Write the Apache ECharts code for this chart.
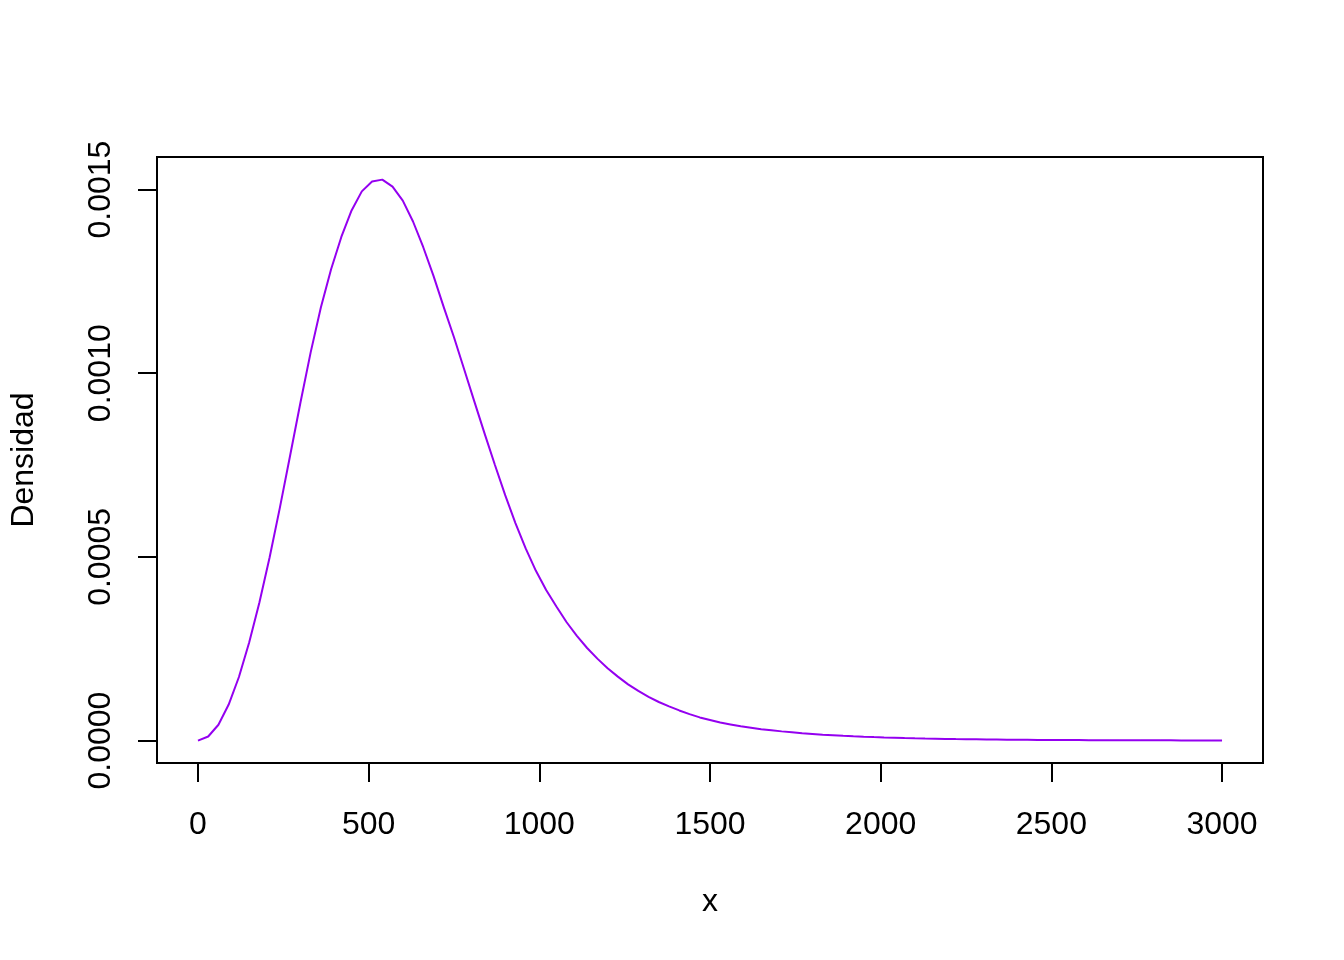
<!DOCTYPE html>
<html>
<head>
<meta charset="utf-8">
<script src="https://cdn.jsdelivr.net/npm/echarts@6/dist/echarts.min.js"></script>
<style>
  html, body { margin: 0; padding: 0; background: #ffffff; }
  #chart { width: 1344px; height: 960px; }
</style>
</head>
<body>
<div id="chart"></div>
<script>
// ---- data ----
const xValues = [
  0, 30, 60, 90, 120, 150, 180, 210, 240, 270,
  300, 330, 360, 390, 420, 450, 480, 510, 540, 570,
  600, 630, 660, 690, 720, 750, 780, 810, 840, 870,
  900, 930, 960, 990, 1020, 1050, 1080, 1110, 1140, 1170,
  1200, 1230, 1260, 1290, 1320, 1350, 1380, 1410, 1440, 1470,
  1500, 1530, 1560, 1590, 1620, 1650, 1680, 1710, 1740, 1770,
  1800, 1830, 1860, 1890, 1920, 1950, 1980, 2010, 2040, 2070,
  2100, 2130, 2160, 2190, 2220, 2250, 2280, 2310, 2340, 2370,
  2400, 2430, 2460, 2490, 2520, 2550, 2580, 2610, 2640, 2670,
  2700, 2730, 2760, 2790, 2820, 2850, 2880, 2910, 2940, 2970,
  3000
];
const densidad = [
  0.0000000, 0.0000110, 0.0000430, 0.0000980, 0.0001730, 0.0002670, 0.0003760, 0.0004990, 0.0006340, 0.0007760,
  0.0009190, 0.0010560, 0.0011790, 0.0012830, 0.0013710, 0.0014430, 0.0014950, 0.0015220, 0.0015270, 0.0015080,
  0.0014700, 0.0014130, 0.0013430, 0.0012650, 0.0011800, 0.0010980, 0.0010100, 0.0009220, 0.0008350, 0.0007500,
  0.0006680, 0.0005920, 0.0005230, 0.0004620, 0.0004100, 0.0003650, 0.0003220, 0.0002850, 0.0002520, 0.0002230,
  0.0001970, 0.0001740, 0.0001530, 0.0001350, 0.0001190, 0.0001050, 0.0000930, 0.0000820, 0.0000720, 0.0000630,
  0.0000560, 0.0000490, 0.0000440, 0.0000390, 0.0000350, 0.0000310, 0.0000280, 0.0000250, 0.0000225, 0.0000200,
  0.0000180, 0.0000160, 0.0000145, 0.0000130, 0.0000117, 0.0000105, 0.0000094, 0.0000084, 0.0000076, 0.0000068,
  0.0000061, 0.0000055, 0.0000050, 0.0000045, 0.0000040, 0.0000036, 0.0000033, 0.0000030, 0.0000027, 0.0000024,
  0.0000022, 0.0000020, 0.0000018, 0.0000016, 0.0000015, 0.0000013, 0.0000012, 0.0000011, 0.0000010, 0.0000009,
  0.0000008, 0.00000075, 0.00000068, 0.00000062, 0.00000056, 0.00000051, 0.00000047, 0.00000043, 0.00000039, 0.00000036,
  0.00000033
];
const xTicks = [0, 500, 1000, 1500, 2000, 2500, 3000];
const yTicks = [0, 0.0005, 0.0010, 0.0015];
const xTitle = 'x';
const yTitle = 'Densidad';

// ---- chart ----
const chart = echarts.init(document.getElementById('chart'), null, { renderer: 'canvas' });
const FONT = '"Liberation Sans", Arial, Helvetica, sans-serif';

const seriesData = xValues.map((x, i) => [x, densidad[i]]);

const option = {
  animation: false,
  backgroundColor: '#ffffff',
  grid: {
    show: true,
    left: 157, top: 157, width: 1106, height: 606,
    borderColor: '#000000', borderWidth: 2,
    backgroundColor: 'transparent',
    containLabel: false
  },
  xAxis: {
    type: 'value',
    min: -120, max: 3120,
    position: 'bottom',
    axisLine: { show: false, onZero: false },
    splitLine: { show: false },
    axisTick: {
      show: true, length: 19, customValues: xTicks,
      lineStyle: { color: '#000000', width: 2 }
    },
    axisLabel: {
      show: true, customValues: xTicks, margin: 46,
      color: '#000000', fontSize: 32, fontFamily: FONT,
      formatter: v => String(v)
    },
    name: xTitle, nameLocation: 'middle', nameGap: 123,
    nameTextStyle: { color: '#000000', fontSize: 32, fontFamily: FONT }
  },
  yAxis: {
    type: 'value',
    min: -0.0000611, max: 0.0015886,
    position: 'left',
    axisLine: { show: false, onZero: false },
    splitLine: { show: false },
    axisTick: {
      show: true, length: 19, customValues: yTicks,
      lineStyle: { color: '#000000', width: 2 }
    },
    axisLabel: {
      show: true, customValues: yTicks, margin: 40, rotate: 90,
      color: '#000000', fontSize: 32, fontFamily: FONT,
      formatter: v => v.toFixed(4)
    },
    name: yTitle, nameLocation: 'middle', nameGap: 117, nameRotate: 90,
    nameTextStyle: { color: '#000000', fontSize: 32, fontFamily: FONT }
  },
  series: [{
    type: 'line',
    data: seriesData,
    showSymbol: false,
    smooth: false,
    lineStyle: { color: '#9400F0', width: 2 },
    itemStyle: { color: '#9400F0' },
    emphasis: { disabled: true }
  }]
};
chart.setOption(option);
</script>
</body>
</html>
